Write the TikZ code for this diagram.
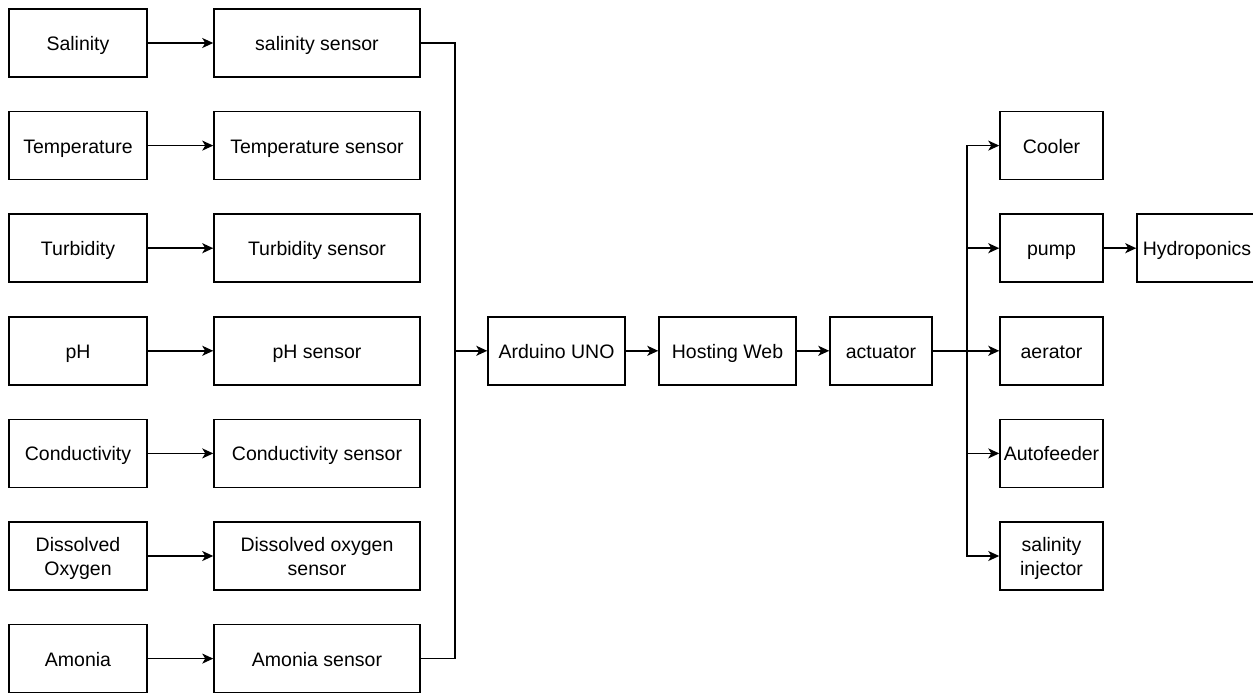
\documentclass[tikz,border=0pt]{standalone}
\usepackage{fontspec}
\setmainfont{Liberation Sans}
\usetikzlibrary{arrows.meta,positioning}

\begin{document}
\begin{tikzpicture}[
  x=1pt, y=-1pt,
  >={Stealth[length=11pt,width=10pt,inset=3pt]},
  line width=1.5pt,
  blockbox/.style={
    draw,
    line width=1.5pt,
    minimum height=68pt,
    inner sep=2pt,
    align=center,
    text height=15pt,
    text depth=0pt,
    font=\fontsize{19.5}{24}\selectfont
  },
  twoline/.style={text height={}, text depth=0pt},
  paramcard/.style={blockbox, minimum width=138pt},
  sensorcard/.style={blockbox, minimum width=206pt},
  outcard/.style={blockbox, minimum width=103pt}
]
  \useasboundingbox (0,0) rectangle (1253,693);

  % --- MEASURED PARAMETERS ---
  \node[paramcard] (pSal)  at (78, 43.0)  {Salinity};
  \node[paramcard] (pTemp) at (78, 145.6) {Temperature};
  \node[paramcard] (pTurb) at (78, 248.2) {Turbidity};
  \node[paramcard] (pPh)   at (78, 350.8) {pH};
  \node[paramcard] (pCond) at (78, 453.4) {Conductivity};
  \node[paramcard, twoline] (pDo) at (78, 556.0) {Dissolved\\Oxygen};
  \node[paramcard] (pAmo)  at (78, 658.6) {Amonia};

  % --- SENSORS ---
  \node[sensorcard] (sSal)  at (317, 43.0)  {salinity sensor};
  \node[sensorcard] (sTemp) at (317, 145.6) {Temperature sensor};
  \node[sensorcard] (sTurb) at (317, 248.2) {Turbidity sensor};
  \node[sensorcard] (sPh)   at (317, 350.8) {pH sensor};
  \node[sensorcard] (sCond) at (317, 453.4) {Conductivity sensor};
  \node[sensorcard, twoline] (sDo) at (317, 556.0) {Dissolved oxygen\\sensor};
  \node[sensorcard] (sAmo)  at (317, 658.6) {Amonia sensor};

  % --- CONTROL CHAIN ---
  \node[blockbox, minimum width=137pt] (ard)  at (556.5, 350.8) {Arduino UNO};
  \node[blockbox, minimum width=137pt] (web)  at (727.5, 350.8) {Hosting Web};
  \node[blockbox, minimum width=102pt] (act)  at (881, 350.8)   {actuator};

  % --- OUTPUTS ---
  \node[outcard] (cool) at (1051.5, 145.6) {Cooler};
  \node[outcard] (pump) at (1051.5, 248.2) {pump};
  \node[outcard] (aer)  at (1051.5, 350.8) {aerator};
  \node[outcard] (feed) at (1051.5, 453.4) {Autofeeder};
  \node[outcard, twoline] (inj) at (1051.5, 556.0) {salinity\\injector};
  \node[blockbox, minimum width=120pt] (hydro) at (1197, 248.2) {Hydroponics};

  % Parameter to sensor arrows
  \draw[->] (pSal)  -- (sSal);
  \draw[->] (pTemp) -- (sTemp);
  \draw[->] (pTurb) -- (sTurb);
  \draw[->] (pPh)   -- (sPh);
  \draw[->] (pCond) -- (sCond);
  \draw[->] (pDo)   -- (sDo);
  \draw[->] (pAmo)  -- (sAmo);

  % Sensor bus into the board
  \coordinate (busL) at (455, 350.8);
  \draw (sSal.east) -| (busL);
  \draw (sAmo.east) -| (busL);
  \draw[->] (busL) -- (ard);
  \draw[->] (ard) -- (web);
  \draw[->] (web) -- (act);

  % Actuator bus to outputs
  \coordinate (busR) at (967, 350.8);
  \draw (act) -- (busR);
  \draw[->] (busR) |- (cool.west);
  \draw[->] (busR) |- (pump.west);
  \draw[->] (busR) -- (aer.west);
  \draw[->] (busR) |- (feed.west);
  \draw[->] (busR) |- (inj.west);
  \draw[->] (pump) -- (hydro);

\end{tikzpicture}
\end{document}
